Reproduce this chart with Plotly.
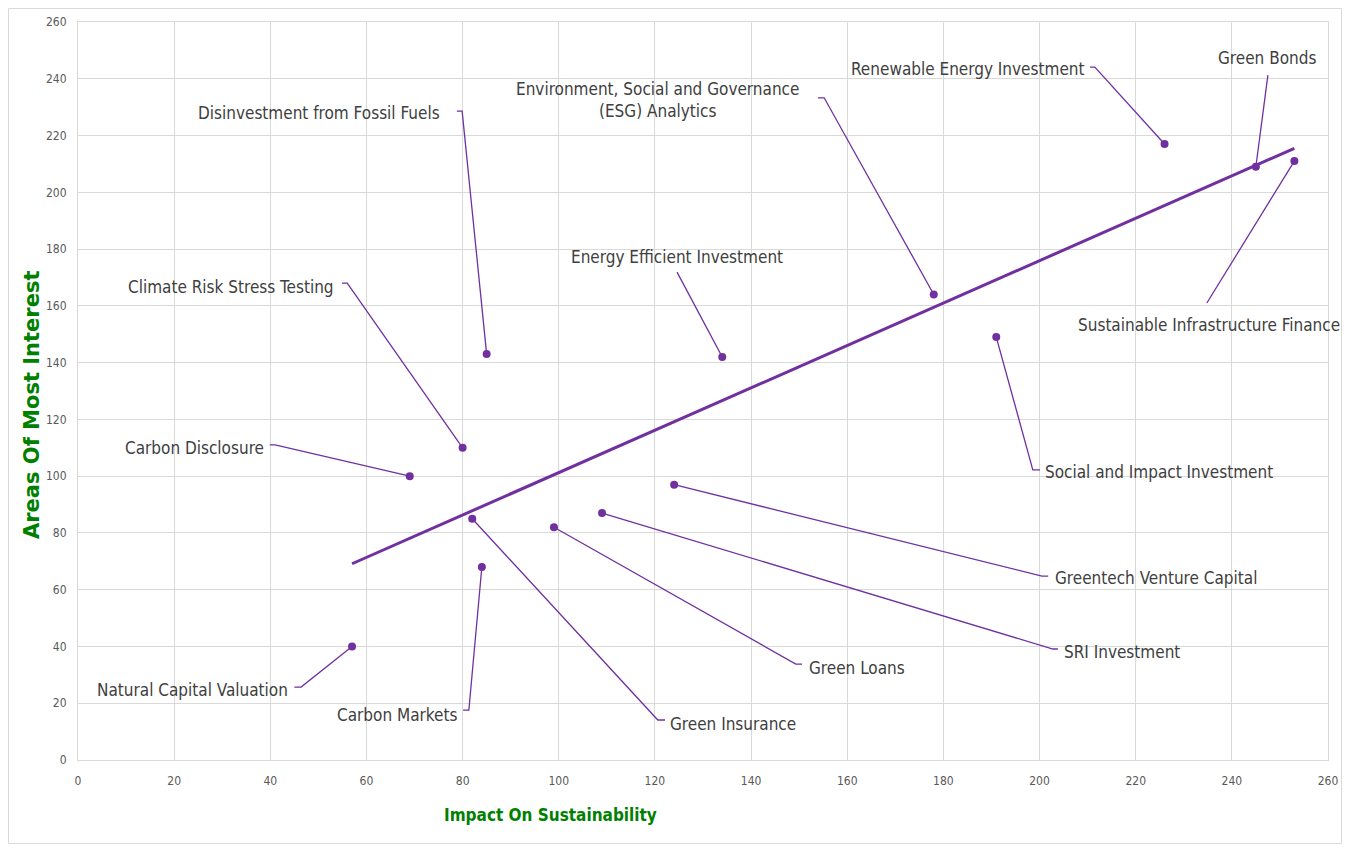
import numpy as np
import plotly.graph_objects as go

# ---------------- data ----------------
names = [
    "Natural Capital Valuation", "Carbon Disclosure", "Climate Risk Stress Testing",
    "Disinvestment from Fossil Fuels", "Carbon Markets", "Green Insurance",
    "Green Loans", "SRI Investment", "Greentech Venture Capital",
    "Energy Efficient Investment", "Environment, Social and Governance<br>(ESG) Analytics",
    "Social and Impact Investment", "Renewable Energy Investment", "Green Bonds",
    "Sustainable Infrastructure Finance",
]
impact = [57, 69, 80, 85, 84, 82, 99, 109, 124, 134, 178, 191, 226, 245, 253]
interest = [40, 100, 110, 143, 68, 85, 82, 87, 97, 142, 164, 149, 217, 209, 211]

x_ticks = list(range(0, 261, 20))
y_ticks = list(range(0, 261, 20))

# ---------------- label layout (positions of leader elbows / texts) ----------------
label_layout = [
    dict(ex=46.4, ey=25.7, tx_end=45.0, tx=44.1, ty=24.7, xa="right"),
    dict(ex=41.0, ey=111.0, tx_end=39.9, tx=39.1, ty=109.9, xa="right"),
    dict(ex=56.0, ey=168.0, tx_end=54.9, tx=53.7, ty=166.6, xa="right"),
    dict(ex=79.9, ey=228.6, tx_end=78.8, tx=75.7, ty=227.9, xa="right"),
    dict(ex=81.3, ey=17.6, tx_end=80.1, tx=79.2, ty=15.9, xa="right"),
    dict(ex=120.6, ey=14.1, tx_end=122.1, tx=122.7, ty=12.7, xa="left"),
    dict(ex=149.3, ey=33.8, tx_end=150.6, tx=151.6, ty=32.4, xa="left"),
    dict(ex=202.8, ey=39.1, tx_end=203.8, tx=204.7, ty=38.0, xa="left"),
    dict(ex=200.5, ey=64.8, tx_end=201.8, tx=202.8, ty=64.1, xa="left"),
    dict(ex=124.6, ey=171.9, tx_end=None, tx=124.6, ty=177.2, xa="center"),
    dict(ex=155.2, ey=233.3, tx_end=153.9, tx=120.6, ty=232.6, xa="center"),
    dict(ex=198.6, ey=102.2, tx_end=200.1, tx=200.7, ty=101.5, xa="left"),
    dict(ex=211.5, ey=244.1, tx_end=210.5, tx=209.9, ty=243.4, xa="right"),
    dict(ex=247.5, ey=241.3, tx_end=None, tx=247.4, ty=247.3, xa="center"),
    dict(ex=234.8, ey=161.0, tx_end=None, tx=235.3, ty=153.3, xa="center"),
]

PURPLE = "#7030A0"
GREEN = "#008000"
GRID = "#d9d9d9"
LABEL_FONT = "Liberation Sans Narrow, Arial Narrow, DejaVu Sans Condensed, sans-serif"

fig = go.Figure()

# leader lines
for i, lay in enumerate(label_layout):
    xs, ys = [], []
    if lay["tx_end"] is not None:
        xs.append(lay["tx_end"]); ys.append(lay["ey"])
    xs += [lay["ex"], impact[i]]
    ys += [lay["ey"], interest[i]]
    fig.add_trace(go.Scatter(x=xs, y=ys, mode="lines",
                             line=dict(color=PURPLE, width=1.3),
                             hoverinfo="skip", showlegend=False))

# linear trendline (least squares through the data)
slope, intercept = np.polyfit(impact, interest, 1)
tx = np.array([min(impact), max(impact)])
fig.add_trace(go.Scatter(x=tx, y=slope * tx + intercept, mode="lines",
                         line=dict(color=PURPLE, width=3),
                         hoverinfo="skip", showlegend=False))

# points
fig.add_trace(go.Scatter(x=impact, y=interest, mode="markers",
                         marker=dict(color=PURPLE, size=8),
                         text=names, showlegend=False))

# labels
for i, lay in enumerate(label_layout):
    fig.add_annotation(x=lay["tx"], y=lay["ty"], text=names[i], showarrow=False,
                       xanchor=lay["xa"], yanchor="middle", align="center",
                       font=dict(family=LABEL_FONT, size=17, color="#404040"))

# axis titles
fig.add_annotation(x=0.3776, y=-0.075, xref="paper", yref="paper",
                   text="<b>Impact On Sustainability</b>", showarrow=False,
                   xanchor="center", yanchor="middle",
                   font=dict(family=LABEL_FONT, size=17, color=GREEN))
fig.add_annotation(x=-0.0368, y=0.481, xref="paper", yref="paper",
                   text="<b>Areas Of Most Interest</b>", showarrow=False, textangle=-90,
                   xanchor="center", yanchor="middle",
                   font=dict(family="DejaVu Sans, sans-serif", size=21, color=GREEN))

# figure is placed by the page at (8, 8); keep it within the 1350x852 window
W, H = 1334, 836
ML, MR, MT, MB = 70, 14, 14, 84
pw, ph = W - ML - MR, H - MT - MB
# outer chart border
fig.add_shape(type="rect", xref="paper", yref="paper",
              x0=(0.5 - ML) / pw, x1=(W - 0.5 - ML) / pw,
              y0=-(MB - 0.5) / ph, y1=1 + (MT - 0.5) / ph,
              line=dict(color=GRID, width=1), layer="below")

axis_common = dict(range=[0, 260], dtick=20, showgrid=True, gridcolor=GRID, gridwidth=1,
                   zeroline=False, showline=True, linecolor=GRID, linewidth=1, mirror=True,
                   automargin=False,
                   tickfont=dict(family=LABEL_FONT, size=12, color="#595959"))
fig.update_xaxes(**axis_common, tickvals=x_ticks, ticklabelstandoff=10)
fig.update_yaxes(**axis_common, tickvals=y_ticks, ticklabelstandoff=8)

fig.update_layout(width=W, height=H,
                  margin=dict(l=ML, r=MR, t=MT, b=MB, autoexpand=False),
                  paper_bgcolor="white", plot_bgcolor="white", showlegend=False)

fig.write_html("out.html")
